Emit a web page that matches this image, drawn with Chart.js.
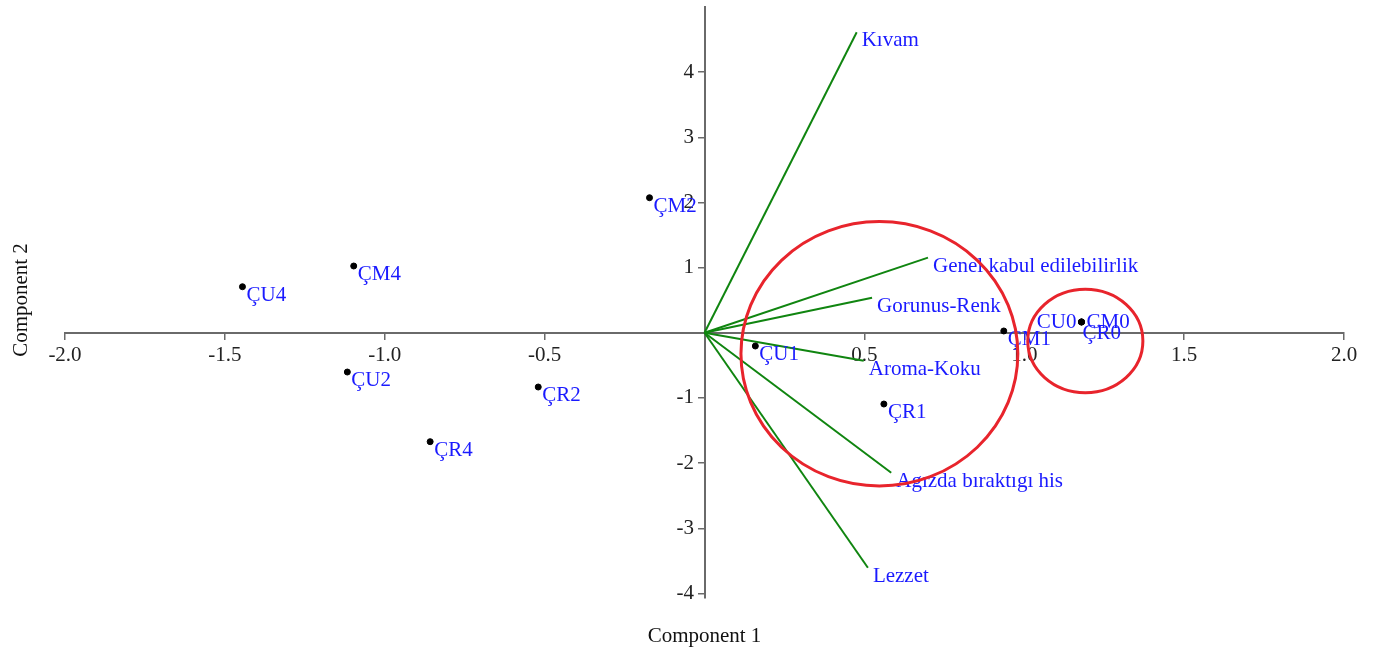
<!DOCTYPE html>
<html lang="tr">
<head>
<meta charset="UTF-8">
<script src="https://cdn.jsdelivr.net/npm/chart.js@4.4.1/dist/chart.umd.min.js"></script>
<title>PCA biplot</title>
<style>
  html, body { margin: 0; padding: 0; background: #fff; }
  #wrap { width: 1374px; height: 652px; }
</style>
</head>
<body>
<div id="wrap"><canvas id="chart"></canvas></div>
<script>
// sample scores (component 1, component 2)
const sampleNames = ['ÇU4', 'ÇM4', 'ÇM2', 'ÇU2', 'ÇR4', 'ÇR2', 'ÇU1', 'ÇR1', 'ÇM1', 'CU0', 'CM0', 'ÇR0'];
const sampleX = [-1.445, -1.097, -0.172, -1.117, -0.858, -0.520, 0.159, 0.561, 0.936, 1.179, 1.179, 1.179];
const sampleY = [0.707, 1.025, 2.073, -0.602, -1.671, -0.832, -0.203, -1.093, 0.028, 0.166, 0.166, 0.166];

// variable loadings
const varNames = ['Kıvam', 'Genel kabul edilebilirlik', 'Gorunus-Renk', 'Aroma-Koku', 'Agızda bıraktıgı his', 'Lezzet'];
const varX = [0.476, 0.699, 0.524, 0.498, 0.584, 0.511];
const varY = [4.612, 1.153, 0.539, -0.428, -2.147, -3.605];

// group circles (centre and radii in data units)
const circleCx = [0.547, 1.191];
const circleCy = [-0.322, -0.126];
const circleRx = [0.433, 0.180];
const circleRy = [2.029, 0.793];

const xTicks = [-2, -1.5, -1, -0.5, 0.5, 1, 1.5, 2];
const yTicks = [-4, -3, -2, -1, 1, 2, 3, 4];

const BLUE = '#1a1aff';
const GREEN = '#108510';
const RED = '#e8242c';
const AXIS = '#6a6a6a';
const FONT = 'Liberation Serif, Times New Roman, serif';

// labels sitting on top of each other get nudged apart
const nudge = {
    'CU0': { dx: -5, dy: 6, align: 'right' },
    'CM0': { dx: 5, dy: 6, align: 'left' },
    'ÇR0': { dx: 1, dy: 17, align: 'left' }
};

Chart.defaults.font.family = FONT;
Chart.defaults.font.size = 21;

const datasets = [{
    data: sampleX.map((x, i) => ({ x: x, y: sampleY[i] })),
    backgroundColor: '#000',
    borderColor: '#000',
    pointRadius: 3,
    showLine: false
}];
varNames.forEach((n, i) => {
    datasets.push({
        data: [{ x: 0, y: 0 }, { x: varX[i], y: varY[i] }],
        showLine: true,
        borderColor: GREEN,
        borderWidth: 2,
        pointRadius: 0
    });
});

const overlay = {
    id: 'overlay',
    afterDatasetsDraw(chart) {
        const ctx = chart.ctx;
        const xs = chart.scales.x, ys = chart.scales.y;
        ctx.save();
        ctx.font = '21px ' + FONT;
        ctx.fillStyle = BLUE;
        ctx.textBaseline = 'alphabetic';

        sampleNames.forEach((n, i) => {
            const px = xs.getPixelForValue(sampleX[i]);
            const py = ys.getPixelForValue(sampleY[i]);
            const o = nudge[n] || { dx: 4, dy: 14, align: 'left' };
            ctx.textAlign = o.align;
            ctx.fillText(n, px + o.dx, py + o.dy);
        });
        ctx.textAlign = 'left';
        varNames.forEach((n, i) => {
            const px = xs.getPixelForValue(varX[i]);
            const py = ys.getPixelForValue(varY[i]);
            ctx.fillText(n, px + 5, py + 14);
        });

        // circles
        ctx.strokeStyle = RED;
        ctx.lineWidth = 3;
        circleCx.forEach((cx, i) => {
            const px = xs.getPixelForValue(cx);
            const py = ys.getPixelForValue(circleCy[i]);
            const rx = Math.abs(xs.getPixelForValue(cx + circleRx[i]) - px);
            const ry = Math.abs(ys.getPixelForValue(circleCy[i] + circleRy[i]) - py);
            ctx.beginPath();
            ctx.ellipse(px, py, rx, ry, 0, 0, Math.PI * 2);
            ctx.stroke();
        });

        // axis titles
        ctx.fillStyle = '#111';
        ctx.textAlign = 'center';
        ctx.textBaseline = 'middle';
        ctx.fillText('Component 1', xs.getPixelForValue(0), 636);
        ctx.translate(21, 300);
        ctx.rotate(-Math.PI / 2);
        ctx.fillText('Component 2', 0, 0);
        ctx.restore();
    }
};

const ctx = document.getElementById('chart').getContext('2d');
new Chart(ctx, {
    type: 'scatter',
    data: { datasets: datasets },
    options: {
        responsive: true,
        maintainAspectRatio: false,
        animation: false,
        layout: { padding: { left: 65, right: 30, top: 7, bottom: 54 } },
        plugins: { legend: { display: false }, tooltip: { enabled: false } },
        scales: {
            x: {
                type: 'linear',
                min: -2,
                max: 2,
                position: { y: 0 },
                afterBuildTicks: s => { s.ticks = xTicks.map(v => ({ value: v })); },
                afterFit: s => { s.paddingLeft = 0; s.paddingRight = 0; },
                ticks: {
                    callback: v => Number(v).toFixed(1),
                    color: '#222',
                    autoSkip: false,
                    maxRotation: 0,
                    padding: 4
                },
                grid: { drawOnChartArea: false, drawTicks: true, tickLength: 6, color: AXIS, lineWidth: 1.5 },
                border: { display: true, color: AXIS, width: 2 }
            },
            y: {
                type: 'linear',
                min: -4.07,
                max: 5,
                position: { x: 0 },
                afterBuildTicks: s => { s.ticks = yTicks.map(v => ({ value: v })); },
                afterFit: s => { s.paddingTop = 0; s.paddingBottom = 0; },
                ticks: {
                    // trailing spaces keep the right-aligned labels clear of the axis
                    callback: v => String(v) + '  ',
                    color: '#222',
                    autoSkip: false,
                    padding: 4
                },
                grid: { drawOnChartArea: false, drawTicks: true, tickLength: 6, color: AXIS, lineWidth: 1.5 },
                border: { display: true, color: AXIS, width: 2 }
            }
        }
    },
    plugins: [overlay]
});
</script>
</body>
</html>
